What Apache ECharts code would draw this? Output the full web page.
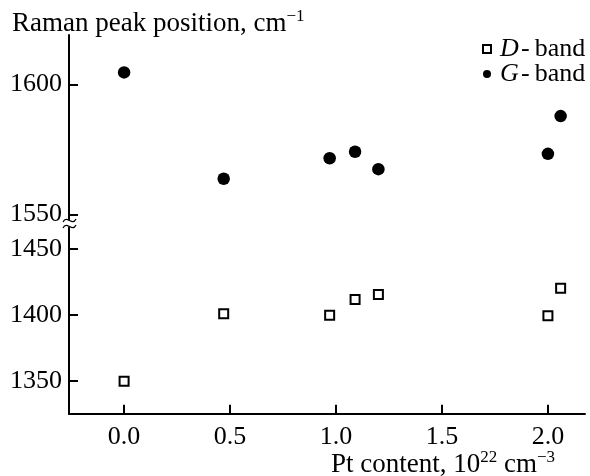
<!DOCTYPE html>
<html><head><meta charset="utf-8">
<script src="https://cdn.jsdelivr.net/npm/echarts@6/dist/echarts.min.js"></script>
<style>html,body{margin:0;padding:0;background:#fff}#c{width:590px;height:476px}</style>
</head><body><div id="c"></div>
<script>
const ptContent = [0.0, 0.47, 0.97, 1.09, 1.20, 2.00, 2.06];
const dBand = [1349.5, 1400.8, 1399.5, 1411.5, 1415.4, 1399.2, 1420.0];
const gBand = [1604.6, 1563.7, 1571.6, 1574.1, 1567.4, 1573.3, 1587.8];
const xTicks = [0.0, 0.5, 1.0, 1.5, 2.0];
const yTicksTop = [1550, 1600];
const yTicksBottom = [1350, 1400, 1450];
const seriesNames = ['D-band', 'G-band'];

const FONT = '"Liberation Serif", "Times New Roman", serif';
const FS = 26;
const X_MIN = -0.26, X_MAX = 2.175;

const chart = echarts.init(document.getElementById('c'));
const axisLineStyle = { color: '#000', width: 2 };

function xAxisCfg(idx, show) {
  return {
    type: 'value', gridIndex: idx, min: X_MIN, max: X_MAX, show: show,
    axisLine: { show: true, onZero: false, lineStyle: axisLineStyle },
    axisTick: { show: true, inside: true, length: 9, lineStyle: axisLineStyle, customValues: xTicks },
    axisLabel: { show: true, margin: 10, color: '#000', fontFamily: FONT, fontSize: FS,
      customValues: xTicks, formatter: v => v.toFixed(1) },
    splitLine: { show: false }
  };
}
function yAxisCfg(idx, min, max, ticks) {
  return {
    type: 'value', gridIndex: idx, min: min, max: max,
    axisLine: { show: true, onZero: false, lineStyle: axisLineStyle },
    axisTick: { show: true, inside: true, length: 9, lineStyle: axisLineStyle, customValues: ticks },
    axisLabel: { show: true, margin: 7, color: '#000', fontFamily: FONT, fontSize: FS,
      customValues: ticks, formatter: v => String(v) },
    splitLine: { show: false }
  };
}
const richTxt = {
  a: { fontFamily: FONT, fontSize: 27, fontWeight: 'normal', color: '#000', lineHeight: 30 },
  s: { fontFamily: FONT, fontSize: 17, fontWeight: 'normal', color: '#000', lineHeight: 30, padding: [0, 0, 15, 0] }
};

chart.setOption({
  animation: false,
  backgroundColor: '#fff',
  textStyle: { fontFamily: FONT, color: '#000' },
  title: [
    { left: 7, top: 4, text: '{a|Raman peak position, cm}{s|−1}',
      textStyle: { fontWeight: 'normal', rich: richTxt } },
    { right: 30, top: 445, text: '{a|Pt content, 10}{s|22}{a| cm}{s|−3}',
      textStyle: { fontWeight: 'normal', rich: richTxt } }
  ],
  legend: {
    orient: 'vertical', left: 477, top: 31, itemWidth: 8, itemHeight: 8, itemGap: -1,
    data: seriesNames,
    formatter: n => '{i|' + n.charAt(0) + '}\u200a-\u2009' + n.slice(2),
    textStyle: { fontFamily: FONT, fontSize: 26, color: '#000', lineHeight: 25, padding: [0, 0, 0, 4],
      rich: { i: { fontFamily: FONT, fontSize: 26, fontStyle: 'italic', color: '#000', lineHeight: 25 } } }
  },
  grid: [
    { left: 69, right: 5, top: 35, height: 184.6, outerBoundsMode: 'none' },
    { left: 69, right: 5, top: 227.6, height: 186.1, outerBoundsMode: 'none' }
  ],
  xAxis: [ xAxisCfg(0, false), xAxisCfg(1, true) ],
  yAxis: [ yAxisCfg(0, 1548, 1619, yTicksTop), yAxisCfg(1, 1325, 1466, yTicksBottom) ],
  series: [
    { name: seriesNames[0], type: 'scatter', xAxisIndex: 1, yAxisIndex: 1,
      symbol: 'rect', symbolSize: 9,
      itemStyle: { color: '#fff', borderColor: '#000', borderWidth: 2, opacity: 1 },
      data: ptContent.map((x, i) => [x, dBand[i]]) },
    { name: seriesNames[1], type: 'scatter', xAxisIndex: 0, yAxisIndex: 0,
      symbol: 'circle', symbolSize: 12.5,
      itemStyle: { color: '#000', opacity: 1 },
      data: ptContent.map((x, i) => [x, gBand[i]]) }
  ],
  graphic: [
    { type: 'bezierCurve', silent: true,
      shape: { x1: 63, y1: 222, x2: 76, y2: 219, cpx1: 67, cpy1: 214, cpx2: 72, cpy2: 227 },
      style: { stroke: '#000', lineWidth: 1.3, fill: null } },
    { type: 'bezierCurve', silent: true,
      shape: { x1: 63, y1: 228, x2: 76, y2: 225, cpx1: 67, cpy1: 220, cpx2: 72, cpy2: 233 },
      style: { stroke: '#000', lineWidth: 1.3, fill: null } }
  ]
});
</script></body></html>
